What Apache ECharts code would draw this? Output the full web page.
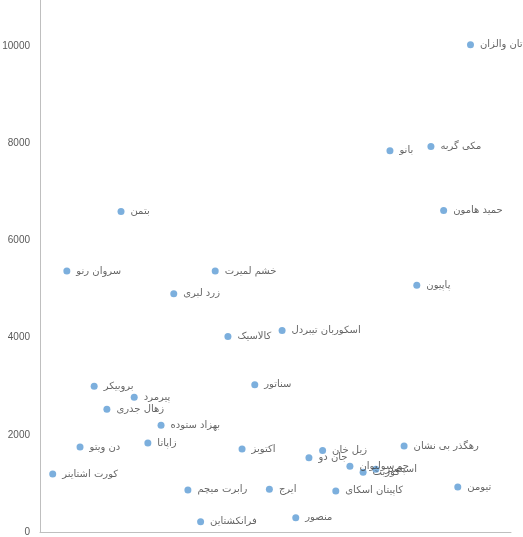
<!DOCTYPE html>
<html>
<head>
<meta charset="utf-8">
<script src="https://cdn.jsdelivr.net/npm/echarts@6/dist/echarts.min.js"></script>
<style>
html,body{margin:0;padding:0;background:#fff;}
#c{width:523px;height:537px;}
</style>
</head>
<body>
<div id="c"></div>
<script>
var names = ["تان والزان","مکی گربه","بانو","حمید هامون","بتمن","سروان رنو","خشم لمیرت","پاپیون","زرد لبری","کالاسیک","اسکوربان تیبردل","سناتور","بروبیکر","پیرمرد","زهال جدری","بهزاد ستوده","زاپاتا","دن ویتو","اکتوبز","رهگذر بی نشان","زیل خان","جان دو","جو سولیوان","کوربت","اسپنسر","کورت اشتاینر","رابرت میچم","ایرج","تیومن","کاپیتان اسکای","منصور","فرانکشتاین"];
var xValues = [91.4,83.0,74.3,85.7,17.2,5.7,37.2,80.0,28.4,39.9,51.4,45.6,11.5,20.0,14.2,25.7,22.9,8.5,42.9,77.3,60.0,57.1,65.8,68.6,71.3,2.7,31.4,48.7,88.7,62.8,54.3,34.1];
var yValues = [10030,7935,7847,6618,6597,5374,5374,5081,4903,4022,4145,3032,2998,2772,2526,2198,1830,1748,1707,1768,1680,1526,1352,1229,1291,1195,867,881,928,846,293,211];
var yTicks = [0,2000,4000,6000,8000,10000];

var data = names.map(function(n,i){ return {name:n, value:[xValues[i], yValues[i]]}; });

var chart = echarts.init(document.getElementById('c'));
chart.setOption({
  animation:false,
  grid:{left:40,right:12,top:0,bottom:5,containLabel:false,outerBoundsMode:'none'},
  xAxis:{type:'value',min:0,max:100,
    axisLine:{show:true,lineStyle:{color:'#bfbfbf',width:1}},
    axisTick:{show:false},axisLabel:{show:false},splitLine:{show:false}},
  yAxis:{type:'value',min:0,max:10950,interval:2000,
    axisLine:{show:true,lineStyle:{color:'#bfbfbf',width:1}},
    axisTick:{show:false},splitLine:{show:false},
    axisLabel:{color:'#595959',fontSize:10,margin:10,fontFamily:'Liberation Sans, Arial, sans-serif',showMaxLabel:false,
      formatter:function(v){ return yTicks.indexOf(v)>=0 ? String(v) : ''; }}},
  series:[{type:'scatter',symbolSize:7,data:data,
    itemStyle:{color:'#5B9BD5'},
    label:{show:true,position:'right',distance:6,formatter:'{b}',color:'#404040',fontSize:10,fontFamily:'DejaVu Sans, sans-serif'}}]
});
</script>
</body>
</html>
